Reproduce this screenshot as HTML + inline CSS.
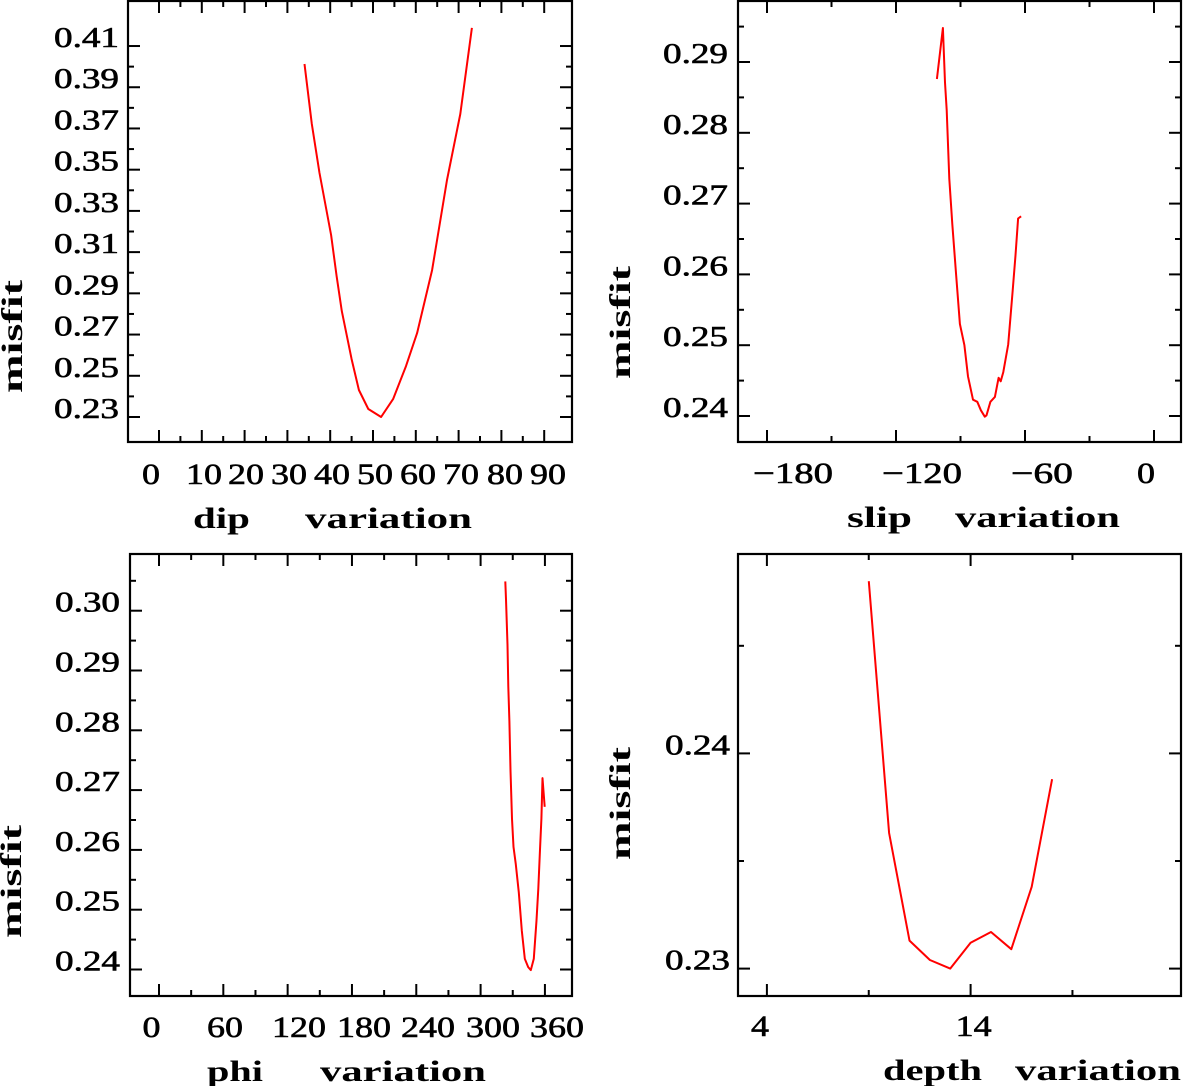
<!DOCTYPE html>
<html><head><meta charset="utf-8"><style>
html,body{margin:0;padding:0;background:#fff;}
svg{display:block;}
text{font-family:"Liberation Serif",serif;fill:#000;}
</style></head><body>
<svg id="chart" width="1183" height="1086" viewBox="0 0 1183 1086" xmlns="http://www.w3.org/2000/svg"></svg>
<script>
// ---- data ----
const dipValues = [34.0,35.7,37.5,40.2,41.5,42.7,45.0,46.7,48.9,51.9,54.7,57.7,60.3,63.8,67.3,70.4,73.1];
const dipMisfit = [0.4013,0.3722,0.3484,0.3183,0.2984,0.2814,0.2581,0.2431,0.2339,0.2300,0.2387,0.2547,0.2707,0.3013,0.3450,0.3770,0.4188];
const slipValues = [-101.0,-98.2,-97.2,-96.4,-95.2,-93.8,-92.0,-90.3,-88.2,-86.5,-84.2,-82.2,-80.5,-78.7,-77.9,-76.1,-74.0,-72.3,-71.3,-70.1,-67.8,-65.8,-64.4,-63.2,-61.8];
const slipMisfit = [0.2876,0.2948,0.2871,0.2832,0.2735,0.2671,0.2598,0.2530,0.2500,0.2456,0.2423,0.2420,0.2408,0.2399,0.2401,0.2420,0.2427,0.2454,0.2449,0.2462,0.2501,0.2574,0.2627,0.2679,0.2682];
const phiValues = [323.0,323.7,325.1,325.8,326.9,327.9,329.3,330.7,332.8,335.6,338.4,341.2,344.4,346.8,349.6,352.1,353.8,355.2,356.7,357.7,358.7,359.8];
const phiMisfit = [0.3049,0.3019,0.2943,0.2873,0.2815,0.2733,0.2652,0.2605,0.2576,0.2529,0.2465,0.2418,0.2404,0.2399,0.2418,0.2482,0.2535,0.2593,0.2652,0.2720,0.2698,0.2672];
const depthValues = [9,10,11,12,13,14,15,16,17,18];
const depthMisfit = [0.2480,0.2363,0.2313,0.2304,0.2300,0.2312,0.2317,0.2309,0.2338,0.2388];

const dipXTicks = ["0","10","20","30","40","50","60","70","80","90"];
const dipYTicks = ["0.23","0.25","0.27","0.29","0.31","0.33","0.35","0.37","0.39","0.41"];
const slipXTicks = ["-180","-120","-60","0"];
const slipYTicks = ["0.24","0.25","0.26","0.27","0.28","0.29"];
const phiXTicks = ["0","60","120","180","240","300","360"];
const phiYTicks = ["0.24","0.25","0.26","0.27","0.28","0.29","0.30"];
const depthXTicks = ["4","14"];
const depthYTicks = ["0.23","0.24"];

const NS = "http://www.w3.org/2000/svg";
const svg = document.getElementById('chart');
function mk(tag, attrs, parent){
  const e = document.createElementNS(NS, tag);
  for (const k in attrs) e.setAttribute(k, attrs[k]);
  (parent||svg).appendChild(e);
  return e;
}

const panels = [
  {key:'dip', xs:v=>159+4.28*v, ys:v=>417-(v-0.23)*2061, f:[128,572,1,442],
   xMaj:[0,10,20,30,40,50,60,70,80,90], xMin:[5,15,25,35,45,55,65,75,85],
   yMaj:[0.23,0.25,0.27,0.29,0.31,0.33,0.35,0.37,0.39,0.41], yMin:[0.24,0.26,0.28,0.30,0.32,0.34,0.36,0.38,0.40],
   xLab:dipXTicks, xLabPx:[151,204,246,289,332,375,418,461,505,548], xLabY:484, yLab:dipYTicks, yLabR:119,
   xs_v:dipValues, ys_v:dipMisfit, t1:['dip',193,250], t2:['variation',305,472], tY:528, mX:22, mY:[280,393]},
  {key:'slip', xs:v=>1154+2.15*v, ys:v=>416-(v-0.24)*7080, f:[738,1181,1,442],
   xMaj:[-180,-120,-60,0], xMin:[-150,-90,-30],
   yMaj:[0.24,0.25,0.26,0.27,0.28,0.29], yMin:[0.245,0.255,0.265,0.275,0.285,0.295],
   xLab:slipXTicks, xLabPx:[793,922,1042,1146], xLabY:483, yLab:slipYTicks, yLabR:728,
   xs_v:slipValues, ys_v:slipMisfit, t1:['slip',847,912], t2:['variation',955,1120], tY:527, mX:630, mY:[266,379]},
  {key:'phi', xs:v=>159+1.072*v, ys:v=>969.5-(v-0.24)*5980, f:[130,572,554,996],
   xMaj:[0,60,120,180,240,300,360], xMin:[30,90,150,210,270,330],
   yMaj:[0.24,0.25,0.26,0.27,0.28,0.29,0.30], yMin:[0.245,0.255,0.265,0.275,0.285,0.295,0.305],
   xLab:phiXTicks, xLabPx:[151.5,225,299,364,428,493,557], xLabY:1037, yLab:phiYTicks, yLabR:120,
   xs_v:phiValues, ys_v:phiMisfit, t1:['phi',207,263], t2:['variation',320,486], tY:1081, mX:21, mY:[825,938]},
  {key:'depth', xs:v=>766.9+20.37*(v-4), ys:v=>968.6-(v-0.23)*21520, f:[738,1181,554,996],
   xMaj:[4,14], xMin:[9,19],
   yMaj:[0.23,0.24], yMin:[0.235,0.245],
   xLab:depthXTicks, xLabPx:[760,973.6], xLabY:1036, yLab:depthYTicks, yLabR:730,
   xs_v:depthValues, ys_v:depthMisfit, t1:['depth',883,982], t2:['variation',1015,1181], tY:1080, mX:630, mY:[747,860]}
];

panels.forEach(p=>{
  const g = mk('g', {});
  
  
  const [x0,x1,y0,y1] = p.f;
  const fr = mk('rect', {x:x0,y:y0,width:x1-x0,height:y1-y0,fill:'none',stroke:'#000','stroke-width':2.2}, g);
  
  
  const tk = mk('g', {stroke:'#000','stroke-width':2}, g);
  
  
  const xt = (v,len)=>{const x=p.xs(v); mk('line',{x1:x,x2:x,y1:y1,y2:y1-len},tk); mk('line',{x1:x,x2:x,y1:y0,y2:y0+len},tk);};
  const yt = (v,len)=>{const y=p.ys(v); mk('line',{x1:x0,x2:x0+len,y1:y,y2:y},tk); mk('line',{x1:x1,x2:x1-len,y1:y,y2:y},tk);};
  p.xMaj.forEach(v=>xt(v,12)); p.xMin.forEach(v=>xt(v,6));
  p.yMaj.forEach(v=>yt(v,12)); p.yMin.forEach(v=>yt(v,6));
  // x tick labels
  p.xLab.forEach((s,i)=>{
    const neg = s.charAt(0)==='-';
    const nd = s.replace('-','').length;
    const w = (neg?26:0) + nd*18;
    const t = mk('text',{x:p.xLabPx[i],y:p.xLabY,'text-anchor':'middle','font-size':30,stroke:'#000','stroke-width':0.6,textLength:w,lengthAdjust:'spacingAndGlyphs'}, g);
    t.textContent = s.replace('-','\u2212');
    
    
  });
  // y tick labels
  p.yLab.forEach((s)=>{
    const t = mk('text',{x:p.yLabR,y:p.ys(parseFloat(s))+1,'text-anchor':'end','font-size':28,stroke:'#000','stroke-width':0.6,textLength:65,lengthAdjust:'spacingAndGlyphs'}, g);
    t.textContent = s;
    
    
  });
  // x axis title
  [p.t1,p.t2].forEach((tt,i)=>{
    const t = mk('text',{x:tt[1],y:p.tY,'font-size':30,'font-weight':'bold',textLength:tt[2]-tt[1],lengthAdjust:'spacingAndGlyphs'}, g);
    t.textContent = tt[0];
    
    
  });
  // y axis title
  const yt2 = mk('text',{x:0,y:0,'font-size':30,'font-weight':'bold',textLength:p.mY[1]-p.mY[0],lengthAdjust:'spacingAndGlyphs',
    transform:`translate(${p.mX},${p.mY[1]}) rotate(-90)`}, g);
  yt2.textContent = 'misfit';
  
  
  // series
  const pts = p.xs_v.map((v,i)=>p.xs(v).toFixed(1)+','+p.ys(p.ys_v[i]).toFixed(1)).join(' ');
  const ln = mk('polyline',{points:pts,fill:'none',stroke:'#ff0000','stroke-width':2,'stroke-linejoin':'round'}, g);
  
  
});
</script>
</body></html>
